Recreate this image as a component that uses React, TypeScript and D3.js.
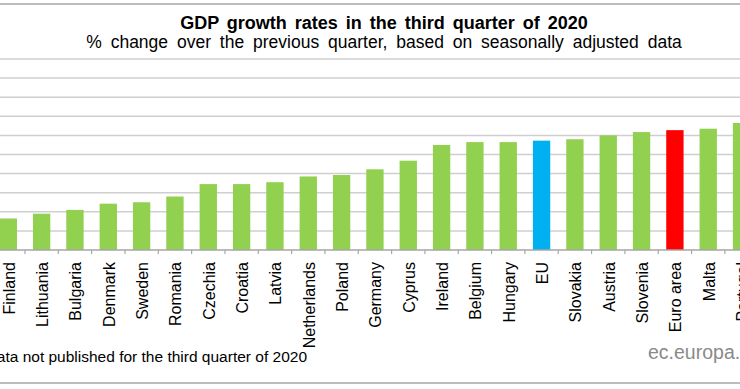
import { useEffect, useRef } from 'react';
import * as d3 from 'd3';

const categories = [
  'Finland', 'Lithuania', 'Bulgaria', 'Denmark', 'Sweden', 'Romania', 'Czechia',
  'Croatia', 'Latvia', 'Netherlands', 'Poland', 'Germany', 'Cyprus', 'Ireland',
  'Belgium', 'Hungary', 'EU', 'Slovakia', 'Austria', 'Slovenia', 'Euro area',
  'Malta', 'Portugal',
];
const growth = [
  3.3, 3.8, 4.2, 4.85, 5.0, 5.6, 6.9, 6.9, 7.1, 7.7, 7.85, 8.45, 9.35, 11.0,
  11.3, 11.3, 11.45, 11.6, 12.0, 12.35, 12.55, 12.7, 13.3,
];
const yTicks = [0, 2, 4, 6, 8, 10, 12, 14, 16, 18, 20];

const title = 'GDP growth rates in the third quarter of 2020';
const subtitle = '% change over the previous quarter, based on seasonally adjusted data';
const footnote = 'Data not published for the third quarter of 2020';
const source = 'ec.europa.eu';

const W = 740;
const H = 389;
const FONT = 'Liberation Sans, Arial, sans-serif';

function barColor(name: string) {
  if (name === 'EU') return '#00b0f0';
  if (name === 'Euro area') return '#ff0000';
  return '#92d050';
}

export default function App() {
  const svgRef = useRef<SVGSVGElement>(null);

  useEffect(() => {
    if (!svgRef.current) return;
    const svg = d3.select(svgRef.current);
    svg.selectAll('*').remove();

    const step = 33.33;
    const x0 = 8.3 - step / 2;
    const x = d3
      .scaleBand<string>()
      .domain(categories)
      .range([x0, x0 + step * categories.length])
      .paddingInner(0.48)
      .paddingOuter(0.24);

    const y = d3.scaleLinear().domain([0, 20]).range([250, 59]);

    // frame lines
    svg.append('line').attr('x1', 0).attr('x2', W).attr('y1', 4).attr('y2', 4)
      .attr('stroke', '#a6a6a6').attr('stroke-width', 1.5);
    svg.append('line').attr('x1', 0).attr('x2', W).attr('y1', 383).attr('y2', 383)
      .attr('stroke', '#a6a6a6').attr('stroke-width', 1.5);

    // titles
    svg.append('text')
      .attr('x', 384).attr('y', 29)
      .attr('text-anchor', 'middle')
      .attr('font-family', FONT)
      .attr('font-weight', 'bold')
      .attr('font-size', 18)
      .attr('word-spacing', 3)
      .attr('fill', '#000')
      .text(title);
    svg.append('text')
      .attr('x', 384).attr('y', 48)
      .attr('text-anchor', 'middle')
      .attr('font-family', FONT)
      .attr('font-size', 17.5)
      .attr('word-spacing', 4)
      .attr('fill', '#000')
      .text(subtitle);

    // grid
    svg.selectAll('.grid')
      .data(yTicks.slice(1))
      .enter()
      .append('line')
      .attr('x1', 0).attr('x2', W)
      .attr('y1', (d) => y(d)).attr('y2', (d) => y(d))
      .attr('stroke', '#cfcfcf').attr('stroke-width', 1.5);

    // bars
    svg.selectAll('.bar')
      .data(categories)
      .enter()
      .append('rect')
      .attr('x', (d) => x(d) ?? 0)
      .attr('width', x.bandwidth())
      .attr('y', (_d, i) => y(growth[i]))
      .attr('height', (_d, i) => y(0) - y(growth[i]))
      .attr('fill', (d) => barColor(d));

    // baseline + ticks
    svg.append('line').attr('x1', 0).attr('x2', W).attr('y1', y(0)).attr('y2', y(0))
      .attr('stroke', '#a6a6a6').attr('stroke-width', 1.5);
    svg.selectAll('.tick')
      .data(categories)
      .enter()
      .append('line')
      .attr('x1', (d) => (x(d) ?? 0) - (x.step() * x.paddingInner()) / 2)
      .attr('x2', (d) => (x(d) ?? 0) - (x.step() * x.paddingInner()) / 2)
      .attr('y1', y(0)).attr('y2', y(0) + 4)
      .attr('stroke', '#a6a6a6').attr('stroke-width', 1.2);

    // category labels
    svg.selectAll('.label')
      .data(categories)
      .enter()
      .append('text')
      .attr('transform', (d) => `translate(${(x(d) ?? 0) + x.bandwidth() / 2},262) rotate(-90)`)
      .attr('dy', '0.4em')
      .attr('text-anchor', 'end')
      .attr('font-family', FONT)
      .attr('font-size', 16)
      .attr('fill', '#000')
      .text((d) => d);

    // footnote + source
    svg.append('text')
      .attr('x', 307).attr('y', 362)
      .attr('text-anchor', 'end')
      .attr('font-family', FONT)
      .attr('font-size', 15.5)
      .attr('fill', '#000')
      .text(footnote);
    svg.append('text')
      .attr('x', 648).attr('y', 359)
      .attr('font-family', FONT)
      .attr('font-size', 19.5)
      .attr('fill', '#8a8a8a')
      .text(source);
  }, []);

  return (
    <svg
      ref={svgRef}
      width={W}
      height={H}
      style={{ position: 'absolute', left: 0, top: 0, background: '#fff' }}
    />
  );
}
